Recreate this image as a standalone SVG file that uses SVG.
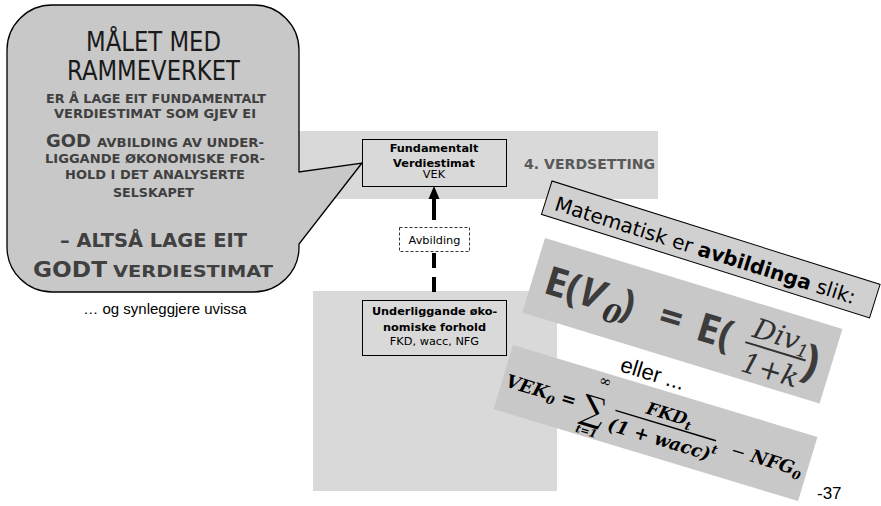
<svg xmlns="http://www.w3.org/2000/svg" width="881" height="506" viewBox="0 0 881 506">
<style>
.sans{font-family:"DejaVu Sans",Verdana,sans-serif}
.arial{font-family:"Liberation Sans",Arial,sans-serif}
.b{font-weight:bold}
.cb{font-family:"DejaVu Sans",Verdana,sans-serif;font-weight:bold;fill:#404040}
.ttl{font-family:"DejaVu Sans",Verdana,sans-serif;font-size:26px;fill:#1a1a1a}
.lbl{font-family:"DejaVu Sans",Verdana,sans-serif;font-size:11.3px;fill:#000}
.band{fill:#d9d9d9}
.node{fill:#d9d9d9;stroke:#000;stroke-width:1}
.panel{fill:#c8c8c8}
.fe{font-family:"Open Sans","DejaVu Sans",sans-serif;font-weight:bold;fill:#3c3c3c}
.fm{font-family:"DejaVu Serif",serif;font-style:italic;fill:#303030}
.fv{font-family:"DejaVu Serif",serif;font-style:italic;font-weight:bold;fill:#000}
</style>
<rect class="band" x="200" y="131" width="458" height="68"/>
<rect class="band" x="313" y="291" width="244" height="200"/>
<text class="sans b" x="524" y="169" font-size="14" fill="#595959" textLength="131" lengthAdjust="spacingAndGlyphs">4. VERDSETTING</text>

<g id="callout">
<path d="M52,5 H254 A45,45 0 0 1 299,50 V172 L362,163 L299,244 V247 A45,45 0 0 1 254,292 H52 A45,45 0 0 1 7,247 V50 A45,45 0 0 1 52,5 Z" fill="#c8c8c8" stroke="#000" stroke-width="1.3"/>
<text class="ttl" x="86" y="51" textLength="135" lengthAdjust="spacingAndGlyphs">MÅLET MED</text>
<text class="ttl" x="67" y="80" textLength="173" lengthAdjust="spacingAndGlyphs">RAMMEVERKET</text>
<text class="cb" x="46" y="103" font-size="11.5" textLength="220" lengthAdjust="spacingAndGlyphs">ER Å LAGE EIT FUNDAMENTALT</text>
<text class="cb" x="54" y="118" font-size="11.5" textLength="202" lengthAdjust="spacingAndGlyphs">VERDIESTIMAT SOM GJEV EI</text>
<text class="cb" x="46" y="147" font-size="18" textLength="45" lengthAdjust="spacingAndGlyphs">GOD</text>
<text class="cb" x="97" y="147" font-size="11.5" textLength="167" lengthAdjust="spacingAndGlyphs">AVBILDING AV UNDER-</text>
<text class="cb" x="45" y="163" font-size="11.5" textLength="220" lengthAdjust="spacingAndGlyphs">LIGGANDE ØKONOMISKE FOR-</text>
<text class="cb" x="65" y="179" font-size="11.5" textLength="180" lengthAdjust="spacingAndGlyphs">HOLD I DET ANALYSERTE</text>
<text class="cb" x="113" y="197" font-size="11.5" textLength="81" lengthAdjust="spacingAndGlyphs">SELSKAPET</text>
<text class="cb" x="60" y="247" font-size="19" textLength="187" lengthAdjust="spacingAndGlyphs">– ALTSÅ LAGE EIT</text>
<text class="cb" x="33" y="277" font-size="21" textLength="74" lengthAdjust="spacingAndGlyphs">GODT</text>
<text class="cb" x="113" y="277" font-size="16" textLength="160" lengthAdjust="spacingAndGlyphs">VERDIESTIMAT</text>
</g>
<text class="arial" x="165" y="314" font-size="15" text-anchor="middle">… og synleggjere uvissa</text>

<g id="connectors">
<path d="M434,292 V199" stroke="#000" stroke-width="4" stroke-dasharray="15 9" fill="none"/>
<path d="M434,197 V209" stroke="#000" stroke-width="4" fill="none"/>
<polygon points="434,186 428.5,199 439.5,199" fill="#000"/>
</g>

<g id="avbilding">
<rect x="399.5" y="227.5" width="70" height="24" fill="#fff" stroke="#000" stroke-width="0.8" stroke-dasharray="3 2"/>
<text class="lbl" x="434.5" y="244" font-size="11" text-anchor="middle">Avbilding</text>
</g>

<g id="vek-node">
<rect class="node" x="362.5" y="139.5" width="144" height="47"/>
<text class="lbl b" x="434" y="152" text-anchor="middle">Fundamentalt</text>
<text class="lbl b" x="434" y="166.5" text-anchor="middle">Verdiestimat</text>
<text class="lbl" x="434" y="178" text-anchor="middle">VEK</text>
</g>

<g id="underlying-node">
<rect class="node" x="362.5" y="300.5" width="144" height="55"/>
<text class="lbl b" x="434.5" y="315" text-anchor="middle">Underliggande øko-</text>
<text class="lbl b" x="434.5" y="330.5" text-anchor="middle">nomiske forhold</text>
<text class="lbl" x="434.5" y="345" text-anchor="middle">FKD, wacc, NFG</text>
</g>

<g id="math-label" transform="translate(552,181) rotate(17.5)">
<rect width="344" height="35" fill="#d0d0d0" stroke="#000" stroke-width="1"/>
<text class="sans" x="10" y="27" font-size="20" fill="#000">Matematisk er <tspan font-weight="bold">avbildinga</tspan> slik:</text>
</g>

<g id="formula-e" transform="translate(545,238) rotate(17)">
<rect class="panel" width="311" height="78"/>
<text class="fe" x="13" y="53" font-size="40">E(<tspan font-style="italic">V</tspan></text>
<text class="fm" x="77" y="62" font-size="26" font-weight="bold">0</text>
<text class="fe" x="92" y="53" font-size="40">)</text>
<text class="fe" x="144" y="53" font-size="40" text-anchor="middle">=</text>
<text class="fe" x="172" y="53" font-size="40">E(</text>
<text class="fm" x="226" y="34" font-size="28">Div<tspan font-size="18" dy="5">1</tspan></text>
<line x1="222" y1="41" x2="285" y2="41" stroke="#303030" stroke-width="2"/>
<text class="fm" x="254" y="70" font-size="28" text-anchor="middle">1+k</text>
<text class="fe" x="283" y="56" font-size="46" fill="#222">)</text>
</g>

<text class="arial" transform="translate(619,371) rotate(17)" font-size="22" fill="#000">eller ...</text>

<g id="formula-vek" transform="translate(513,345) rotate(16.8)">
<rect class="panel" width="318" height="67"/>
<text class="fv" x="4" y="42" font-size="18">VEK<tspan font-size="12" dy="4">0</tspan></text>
<text class="fv" x="69" y="42" font-size="18" text-anchor="middle" font-style="normal">=</text>
<text x="96" y="50" font-size="34" text-anchor="middle" font-family="DejaVu Serif,serif" fill="#000">∑</text>
<text x="99" y="13" font-size="15" text-anchor="middle" font-family="DejaVu Serif,serif" fill="#000">∞</text>
<text class="fv" x="95" y="65" font-size="11" text-anchor="middle">t=1</text>
<text class="fv" x="170" y="27" font-size="17" text-anchor="middle">FKD<tspan font-size="12" dy="4">t</tspan></text>
<line x1="117" y1="33" x2="222" y2="33" stroke="#000" stroke-width="1.4"/>
<text class="fv" x="170" y="54" font-size="18" text-anchor="middle">(1 + wacc)<tspan font-size="12" dy="-8">t</tspan></text>
<text class="fv" x="276" y="43" font-size="18" text-anchor="middle"><tspan font-style="normal" font-weight="normal">− </tspan>NFG<tspan font-size="12" dy="4">0</tspan></text>
</g>

<text class="arial" x="817" y="499" font-size="17" fill="#000">-37</text>
</svg>
